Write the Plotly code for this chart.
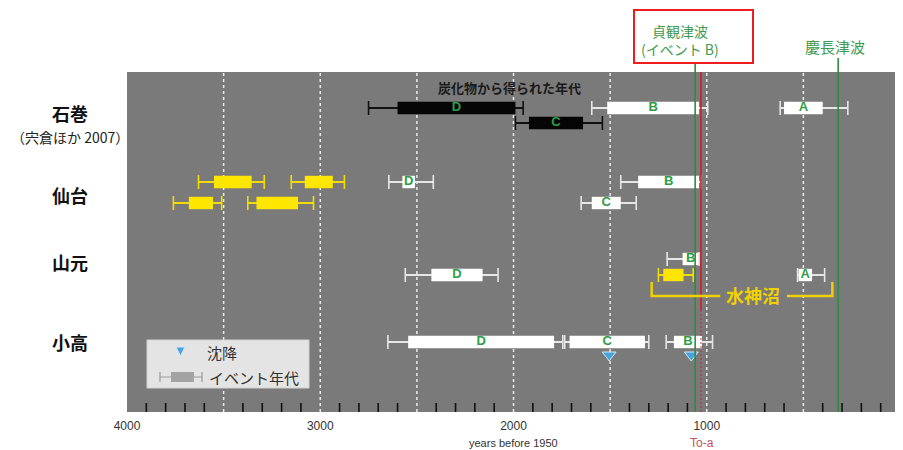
import plotly.graph_objects as go

# sites (row labels) and their vertical lane on the chart
sites = ["石巻", "仙台", "山元", "小高"]
site_rows = [2.05, 6.15, 9.5, 13.5]

# dated layers: lane, outer range (old -> young) and inner box (old -> young), years BP
ev_row = [1.8, 2.55, 1.8, 1.8,
          5.5, 5.5, 5.5, 5.5, 6.55, 6.55, 6.55,
          9.35, 10.15, 10.15, 10.15,
          13.5, 13.5, 13.5]
ev_whisk_old = [2750, 1990, 1595, 620,
                3630, 3150, 2645, 1445, 3760, 3375, 1650,
                1205, 2560, 1250, 530,
                2650, 1735, 1210]
ev_box_old = [2600, 1920, 1515, 600,
              3550, 3080, 2575, 1355, 3680, 3330, 1595,
              1125, 2425, 1225, 525,
              2545, 1710, 1170]
ev_box_young = [1990, 1640, 1040, 400,
                3355, 2935, 2510, 1040, 3555, 3115, 1445,
                1040, 2160, 1120, 455,
                1790, 1320, 1025]
ev_whisk_young = [1950, 1540, 995, 270,
                  3290, 2875, 2415, 1030, 3510, 3035, 1365,
                  1040, 2080, 1070, 390,
                  1745, 1300, 970]
ev_letter = ["D", "C", "B", "A",
             "", "", "D", "B", "", "", "C",
             "B", "D", "", "A",
             "D", "C", "B"]
ev_kind = ["charcoal", "charcoal", "event", "event",
           "sand", "sand", "event", "event", "sand", "sand", "event",
           "event", "event", "sand", "event",
           "event", "event", "event"]

# subsidence markers (小高)
sub_year = [1505, 1080]
sub_row = [14.15, 14.15]

# reference lines (years BP)
jogan = 1060
to_a = 1030
keicho = 320

tick_years = [4000, 3000, 2000, 1000, 0]

box_col = {"charcoal": "#050505", "event": "#ffffff", "sand": "#ffe600"}
whisk_col = {"charcoal": "#111111", "event": "#e6e6e6", "sand": "#f3dd00"}
GREEN_TXT = "#3f9a55"
GREEN_LN = "#2f8c3c"
RED = "#c8202a"
YEL = "#f0d000"
JP = "Noto Sans CJK JP"
LAT = "Liberation Sans"

# the page body has an 8px margin, so the figure sits 8px in from the window corner
OFF = 8
W, H = 903 - OFF, 450 - OFF
# plot area in window pixels: x 127..900, y 72..412
L, R, T, B = 127, 900, 72, 412


def px(x):
    return (x - L) / (R - L)


def py(y):
    return (B - y) / (B - T)


fig = go.Figure()

# whisker line (thin bar, drawn under the box)
fig.add_trace(go.Bar(
    orientation="h", y=ev_row, base=ev_whisk_young,
    x=[o - y for o, y in zip(ev_whisk_old, ev_whisk_young)],
    width=0.08, marker_color=[whisk_col[k] for k in ev_kind],
    marker_line_width=0, hoverinfo="skip"))

# inner box
fig.add_trace(go.Bar(
    orientation="h", y=ev_row, base=ev_box_young,
    x=[o - y for o, y in zip(ev_box_old, ev_box_young)],
    width=0.62, marker_color=[box_col[k] for k in ev_kind],
    marker_line_width=0, hoverinfo="skip"))

# whisker end caps
fig.add_trace(go.Scatter(
    x=ev_whisk_old + ev_whisk_young, y=ev_row + ev_row, mode="markers",
    marker=dict(symbol="line-ns", size=10,
                line=dict(width=1.6, color=[whisk_col[k] for k in ev_kind] * 2)),
    hoverinfo="skip"))

# letters on boxes
fig.add_trace(go.Scatter(
    x=[(o + y) / 2 for o, y in zip(ev_box_old, ev_box_young)], y=ev_row,
    mode="text", text=ev_letter,
    textfont=dict(family=LAT, size=13, color="#2e9e45", weight="bold"),
    hoverinfo="skip"))

# subsidence triangles
fig.add_trace(go.Scatter(
    x=sub_year, y=sub_row, mode="markers",
    marker=dict(symbol="triangle-down", size=12, color="#45a3e0",
                line=dict(width=1, color="#d8e6f0")),
    hoverinfo="skip"))

shapes = []
# dashed grid every 500 years
for g in range(500, 4000, 500):
    shapes.append(dict(type="line", xref="x", yref="paper", x0=g, x1=g, y0=0, y1=1,
                       layer="below",
                       line=dict(color="rgba(255,255,255,0.85)", width=1.5, dash="3px,3px")))
# short black ticks every 100 years along the bottom
for v in range(100, 4000, 100):
    if v % 500:
        shapes.append(dict(type="line", xref="x", yref="paper", x0=v, x1=v,
                           y0=0, y1=py(403), line=dict(color="#111", width=1.6)))

# tsunami / tephra lines
shapes.append(dict(type="line", xref="x", yref="paper", x0=jogan, x1=jogan,
                   y0=0, y1=py(62), line=dict(color=GREEN_LN, width=1.6)))
shapes.append(dict(type="line", xref="x", yref="paper", x0=keicho, x1=keicho,
                   y0=0, y1=py(58), line=dict(color=GREEN_LN, width=1.6)))
shapes.append(dict(type="line", xref="x", yref="paper", x0=to_a, x1=to_a,
                   y0=py(310), y1=1, line=dict(color=RED, width=1.6)))
shapes.append(dict(type="line", xref="x", yref="paper", x0=to_a, x1=to_a,
                   y0=0, y1=py(310), line=dict(color="rgba(200,32,42,0.7)", width=1.2, dash="2px,2px")))

# red box around 貞観津波
shapes.append(dict(type="rect", xref="paper", yref="paper",
                   x0=px(634), x1=px(753), y0=py(63), y1=py(10),
                   line=dict(color="#ee1c1c", width=2)))

# 水神沼 bracket
shapes.append(dict(type="path", xref="x", yref="y",
                   path="M 1285,10.5 L 1285,11.2 L 930,11.2",
                   line=dict(color=YEL, width=2.5)))
shapes.append(dict(type="path", xref="x", yref="y",
                   path="M 585,11.2 L 350,11.2 L 350,10.5",
                   line=dict(color=YEL, width=2.5)))

# legend box
shapes.append(dict(type="rect", xref="paper", yref="paper",
                   x0=px(147), x1=px(309), y0=py(388), y1=py(340),
                   fillcolor="#e4e4e4", line=dict(color="#d2d2d2", width=1)))
shapes.append(dict(type="path", xref="paper", yref="paper",
                   path=f"M {px(176)},{py(347)} L {px(185)},{py(347)} L {px(180.5)},{py(356)} Z",
                   fillcolor="#45a3e0", line=dict(color="#d8e6f0", width=1)))
shapes.append(dict(type="line", xref="paper", yref="paper",
                   x0=px(160), x1=px(202), y0=py(377), y1=py(377),
                   line=dict(color="#9a9a9a", width=1.2)))
for cx in (160, 202):
    shapes.append(dict(type="line", xref="paper", yref="paper",
                       x0=px(cx), x1=px(cx), y0=py(372), y1=py(382),
                       line=dict(color="#9a9a9a", width=1.2)))
shapes.append(dict(type="rect", xref="paper", yref="paper",
                   x0=px(171), x1=px(194), y0=py(382), y1=py(372),
                   fillcolor="#a3a3a3", line=dict(width=0)))


def label(x, y, text, size, color, family=JP, xref="paper", yref="paper"):
    return dict(x=x, y=y, xref=xref, yref=yref, text=text, showarrow=False,
                xanchor="center", yanchor="middle",
                font=dict(family=family, size=size, color=color))


ann = []
for name, row in zip(sites, site_rows):
    ann.append(label(px(70), row, f"<b>{name}</b>", 18, "#111", yref="y"))
ann.append(label(px(70), 3.25, "（宍倉ほか 2007）", 14, "#222", yref="y"))
ann.append(label(2020, 0.75, "<b>炭化物から得られた年代</b>", 13, "#1a1a1a", xref="x", yref="y"))
ann.append(label(760, 11.15, "<b>水神沼</b>", 18, YEL, xref="x", yref="y"))
ann.append(label(px(680), py(40), "貞観津波<br>(イベント B)", 14, GREEN_TXT))
ann.append(label(px(835), py(46), "慶長津波", 15, GREEN_TXT))
ann.append(label(2000, py(443), "years before 1950", 11, "#333", family=LAT, xref="x"))
ann.append(label(1025, py(443), "To-a", 12, "#c9505a", family=LAT, xref="x"))
ann.append(label(px(222), py(352), "沈降", 15, "#333"))
ann.append(label(px(254), py(377), "イベント年代", 15, "#333"))

fig.update_layout(
    width=W, height=H,
    margin=dict(l=L - OFF, r=W - (R - OFF), t=T - OFF, b=H - (B - OFF), autoexpand=False),
    paper_bgcolor="white", plot_bgcolor="#7a7a7a",
    barmode="overlay", showlegend=False,
    shapes=shapes, annotations=ann,
    xaxis=dict(range=[4000, 0], tickmode="array", tickvals=tick_years,
               ticktext=[str(v) for v in tick_years], ticks="", showgrid=False,
               zeroline=False, showline=False, ticklabelstandoff=5,
               tickfont=dict(family=LAT, size=12, color="#333")),
    yaxis=dict(range=[17, 0], visible=False),
)

fig.write_html("out.html")
